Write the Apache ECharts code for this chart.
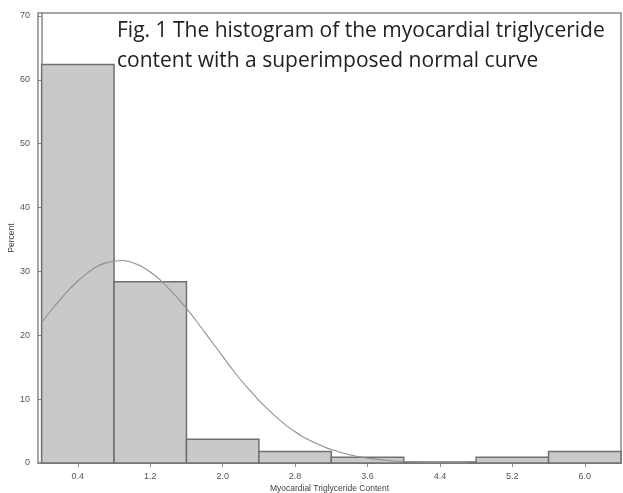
<!DOCTYPE html>
<html>
<head>
<meta charset="utf-8">
<script src="https://cdn.jsdelivr.net/npm/echarts@6/dist/echarts.min.js"></script>
<style>
  html, body { margin: 0; padding: 0; background: #fff; }
  #chart { width: 623px; height: 493px; }
</style>
</head>
<body>
<div id="chart"></div>
<script>
// histogram bins (midpoints) and percent per bin
const binCenters = [0.4, 1.2, 2.0, 2.8, 3.6, 4.4, 5.2, 6.0]
const binWidth = 0.8
const percents = [62.4, 28.4, 3.7, 1.8, 0.9, 0.15, 0.9, 1.8]

// normal curve
const curveX = [0, 0.1, 0.2, 0.3, 0.4, 0.5, 0.6, 0.7, 0.8, 0.9, 1.0, 1.1, 1.2, 1.3, 1.4, 1.5, 1.6, 1.7, 1.8, 1.9, 2.0, 2.1, 2.2, 2.3, 2.4, 2.5, 2.6, 2.7, 2.8, 2.9, 3.0, 3.2, 3.4, 3.6, 3.8, 4.0, 4.2, 4.4, 4.6, 4.7]
const curveY = [22.0, 23.8, 25.5, 27.1, 28.5, 29.7, 30.7, 31.3, 31.6, 31.7, 31.4, 30.8, 29.9, 28.8, 27.4, 25.9, 24.2, 22.4, 20.5, 18.6, 16.7, 14.8, 13.0, 11.4, 9.8, 8.4, 7.1, 5.9, 4.9, 4.0, 3.3, 2.1, 1.3, 0.77, 0.44, 0.24, 0.13, 0.07, 0.03, 0.02]

const xTicks = [0.4, 1.2, 2.0, 2.8, 3.6, 4.4, 5.2, 6.0]
const yTicks = [0, 10, 20, 30, 40, 50, 60, 70]

const myChart = echarts.init(document.getElementById('chart'))
myChart.setOption({
  animation: false,
  title: {
    text: 'Fig. 1 The histogram of the myocardial triglyceride\ncontent with a superimposed normal curve',
    left: 112,
    top: 11,
    textStyle: {
      fontFamily: 'Open Sans',
      fontWeight: 'normal',
      fontSize: 21,
      lineHeight: 30,
      color: '#222'
    }
  },
  grid: {
    left: 38,
    right: 2,
    top: 13,
    bottom: 30,
    outerBoundsMode: 'none',
    containLabel: false,
    show: true,
    borderColor: '#8a8a8a',
    borderWidth: 1.5
  },
  xAxis: {
    type: 'value',
    min: -0.04,
    max: 6.4,
    name: 'Myocardial Triglyceride Content',
    nameLocation: 'middle',
    nameGap: 21,
    nameMoveOverlap: false,
    nameTextStyle: { fontFamily: 'Liberation Sans', fontSize: 8.5, color: '#444' },
    splitLine: { show: false },
    axisLine: { lineStyle: { color: '#8a8a8a', width: 1.5 } },
    axisTick: { customValues: xTicks, length: 4, lineStyle: { color: '#8a8a8a' } },
    axisLabel: {
      customValues: xTicks,
      formatter: v => v.toFixed(1),
      fontFamily: 'Liberation Sans',
      fontSize: 9,
      color: '#555',
      margin: 9
    }
  },
  yAxis: {
    type: 'value',
    min: 0,
    max: 70.47,
    name: 'Percent',
    nameLocation: 'middle',
    nameGap: 22,
    nameMoveOverlap: false,
    nameTextStyle: { fontFamily: 'Liberation Sans', fontSize: 8.5, color: '#444' },
    splitLine: { show: false },
    axisLine: { show: true, lineStyle: { color: '#8a8a8a', width: 1.5 } },
    axisTick: { show: true, customValues: yTicks, length: 4, lineStyle: { color: '#8a8a8a' } },
    axisLabel: {
      customValues: yTicks,
      fontFamily: 'Liberation Sans',
      fontSize: 9,
      color: '#555',
      margin: 8
    }
  },
  series: [
    {
      type: 'custom',
      data: binCenters.map((c, i) => [c - binWidth / 2, c + binWidth / 2, percents[i]]),
      renderItem: function(params, api) {
        const p0 = api.coord([api.value(0), 0])
        const p1 = api.coord([api.value(1), api.value(2)])
        return {
          type: 'rect',
          shape: { x: p0[0], y: p1[1], width: p1[0] - p0[0], height: p0[1] - p1[1] },
          style: { fill: '#c9c9c9', stroke: '#707070', lineWidth: 1.5 }
        }
      },
      z: 2
    },
    {
      type: 'line',
      data: curveX.map((x, i) => [x, curveY[i]]),
      smooth: 0.3,
      showSymbol: false,
      lineStyle: { color: '#8f8f8f', width: 1.1 },
      z: 3
    }
  ]
})
</script>
</body>
</html>
